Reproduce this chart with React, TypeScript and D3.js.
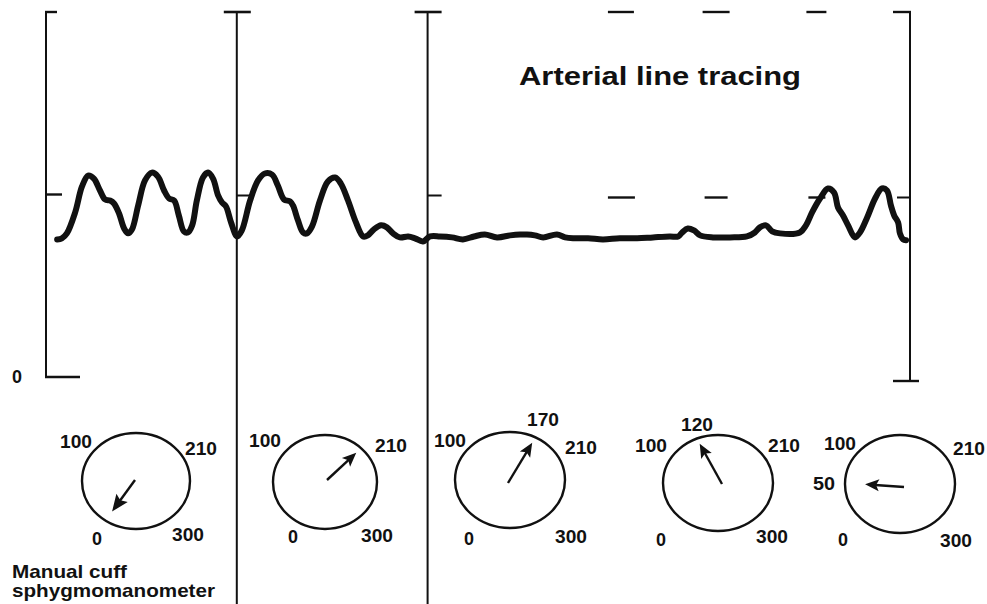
import React from 'react';
import * as d3 from 'd3';

const W = 987;
const H = 604;

// Arterial line tracing: time (s) and pressure (mmHg)
const waveTime = [0.31,0.44,0.58,0.81,1.00,1.17,1.33,1.50,1.64,1.78,1.89,2.03,2.17,2.28,2.39,2.56,2.75,2.94,3.11,3.28,3.42,3.56,3.69,3.83,3.94,4.06,4.19,4.36,4.50,4.64,4.78,4.89,5.00,5.14,5.31,5.44,5.67,5.89,6.08,6.28,6.44,6.61,6.78,6.86,7.00,7.14,7.25,7.39,7.61,7.83,8.03,8.19,8.39,8.61,8.81,8.94,9.11,9.31,9.47,9.64,9.83,10.06,10.25,10.47,10.67,10.94,11.28,11.58,11.89,12.19,12.53,12.89,13.17,13.36,13.58,13.81,14.19,14.42,14.64,15.06,15.47,15.94,16.42,16.86,17.33,17.56,17.67,17.83,18.00,18.17,18.53,19.00,19.47,19.69,19.83,20.00,20.17,20.39,20.94,21.11,21.28,21.50,21.72,21.89,22.00,22.14,22.28,22.47,22.61,22.81,23.03,23.22,23.36,23.47,23.56,23.67,23.72,23.81,23.89];
const wavePressure = [75.4,76.0,78.7,90.2,104.4,110.4,108.7,102.2,97.3,96.7,95.1,89.6,81.4,78.7,80.9,94.0,107.7,112.0,109.8,102.2,97.8,96.7,88.5,79.8,79.2,83.1,96.7,109.3,112.0,108.7,99.5,95.6,93.4,84.7,77.0,80.3,96.7,107.7,111.5,110.9,104.9,97.3,96.2,94.0,85.8,79.2,78.7,82.5,96.7,107.1,109.3,106.0,96.7,84.7,77.0,77.6,80.9,83.1,82.0,78.7,76.5,77.0,76.0,74.3,77.0,77.0,76.5,75.4,77.0,78.1,76.5,77.6,78.1,78.1,77.6,76.5,78.1,76.5,76.0,76.0,75.4,76.0,76.0,76.5,77.0,77.0,79.2,81.4,80.3,77.6,76.5,76.5,77.0,79.2,82.0,83.1,79.8,78.7,79.2,83.1,90.2,97.8,103.3,101.1,92.9,88.5,83.1,76.5,79.2,87.4,97.8,103.3,102.2,94.0,88.5,84.7,78.7,75.4,74.9];

const pressureTicks = [0, 100, 200];
const cuffMarkerTimes = [5.3, 10.6];
const dashTimes = [15.97, 18.6, 21.4];

// Manual cuff dials
const dialScaleLabels = ['100', '210', '0', '300'];
const dialReadings = [0, 210, 170, 120, 50];
const dialExtraLabels = ['', '', '170', '120', '50'];
const needleAngles = [-144, 47, 31, -29, -86];

// layout only
const dialLayout = [
  { cx: 136, cy: 481, rx: 54, ry: 48, len: 39, sx: -1, sy: -1, lab: [[-60, -33], [65, -26], [-39, 64], [52, 60]], ex: null },
  { cx: 325, cy: 482, rx: 52, ry: 47, len: 40, sx: 2, sy: -2, lab: [[-60, -35], [66, -30], [-32, 61], [52, 60]], ex: null },
  { cx: 510, cy: 480, rx: 55, ry: 48, len: 47, sx: -2, sy: 3, lab: [[-60, -33], [71, -26], [-41, 65], [61, 63]], ex: [33, -54] },
  { cx: 718, cy: 483, rx: 55, ry: 48, len: 46, sx: 4, sy: 1, lab: [[-67, -31], [66, -31], [-57, 63], [54, 60]], ex: [-21, -52] },
  { cx: 900, cy: 484, rx: 55, ry: 49, len: 39, sx: 4, sy: 3, lab: [[-60, -34], [69, -29], [-57, 62], [56, 63]], ex: [-76, 6] },
];

const FONT = "'Liberation Sans', Arial, Helvetica, sans-serif";

function Needle({ x0, y0, angle, len, big }: { x0: number; y0: number; angle: number; len: number; big: boolean }) {
  const a = (angle * Math.PI) / 180;
  const dx = Math.sin(a);
  const dy = -Math.cos(a);
  const tx = x0 + dx * len;
  const ty = y0 + dy * len;
  const hl = big ? 17 : 14;
  const hw = big ? 7 : 6;
  const bx = tx - dx * hl;
  const by = ty - dy * hl;
  const px = -dy;
  const py = dx;
  const pts = [
    [tx, ty],
    [bx + px * hw, by + py * hw],
    [bx + dx * 3, by + dy * 3],
    [bx - px * hw, by - py * hw],
  ];
  return (
    <g>
      <line x1={x0} y1={y0} x2={bx + dx * 4} y2={by + dy * 4} stroke="#111" strokeWidth={2.4} />
      <polygon points={pts.map((p) => p.join(',')).join(' ')} fill="#111" />
    </g>
  );
}

export default function App() {
  const x = d3.scaleLinear().domain([0, 24]).range([46, 910]);
  const y = d3.scaleLinear().domain([0, 200]).range([377, 12]);

  const pts: [number, number][] = waveTime.map((t, i) => [t, wavePressure[i]]);
  const line = d3
    .line<[number, number]>()
    .x((d) => x(d[0]))
    .y((d) => y(d[1]))
    .curve(d3.curveCatmullRom.alpha(0.5));

  const ink = '#111';
  const digitLen = (s: string) => (s.length === 1 ? 10 : s.length === 2 ? 22 : 32);

  return (
    <svg
      width={W}
      height={H}
      viewBox={`0 0 ${W} ${H}`}
      style={{ position: 'absolute', left: 0, top: 0, background: '#fff' }}
      fontFamily={FONT}
    >
      <rect x={0} y={0} width={W} height={H} fill="#fff" />

      {/* Left pressure axis */}
      <line x1={x(0)} y1={y(200) - 1} x2={x(0)} y2={y(0) + 1} stroke={ink} strokeWidth={2} />
      {pressureTicks.map((p) => (
        <line
          key={p}
          x1={x(0) - 1}
          y1={y(p)}
          x2={x(0) + (p === 0 ? 34 : p === 100 ? 16 : 11)}
          y2={y(p)}
          stroke={ink}
          strokeWidth={2.4}
        />
      ))}
      <text x={17} y={383} fontSize={18} fontWeight="bold" textAnchor="middle" fill={ink} textLength={10} lengthAdjust="spacingAndGlyphs">
        0
      </text>

      {/* Cuff event markers */}
      {cuffMarkerTimes.map((t) => (
        <g key={t}>
          <line x1={x(t)} y1={y(200)} x2={x(t)} y2={H} stroke={ink} strokeWidth={2} />
          <line x1={x(t) - 13} y1={y(200)} x2={x(t) + 14} y2={y(200)} stroke={ink} strokeWidth={2.6} />
          <line x1={x(t)} y1={y(100) + 1} x2={x(t) + 14} y2={y(100) + 1} stroke={ink} strokeWidth={2} />
        </g>
      ))}

      {/* dashed reference levels */}
      {dashTimes.map((t, i) => (
        <g key={t}>
          <line x1={x(t) - [13, 13, 10][i]} y1={y(200)} x2={x(t) + [13, 14, 10][i]} y2={y(200)} stroke={ink} strokeWidth={2.4} />
          <line x1={x(t) - [13, 11, 8][i]} y1={y(100) + 3} x2={x(t) + [14, 12, 9][i]} y2={y(100) + 3} stroke={ink} strokeWidth={2.4} />
        </g>
      ))}

      {/* Right bracket */}
      <line x1={x(24)} y1={y(200)} x2={x(24)} y2={y(0) + 4} stroke={ink} strokeWidth={2} />
      <line x1={x(24) - 17} y1={y(200)} x2={x(24) + 1} y2={y(200)} stroke={ink} strokeWidth={2.4} />
      <line x1={x(24) - 13} y1={y(100) + 3} x2={x(24)} y2={y(100) + 3} stroke={ink} strokeWidth={2} />
      <line x1={x(24) - 17} y1={y(0) + 4} x2={x(24) + 9} y2={y(0) + 4} stroke={ink} strokeWidth={2.4} />

      {/* Arterial trace */}
      <path d={line(pts) || ''} fill="none" stroke={ink} strokeWidth={6} strokeLinejoin="round" strokeLinecap="round" />

      <text x={519} y={85} fontSize={26.5} fontWeight="bold" fill={ink} textLength={282} lengthAdjust="spacingAndGlyphs">
        Arterial line tracing
      </text>

      {/* Dials */}
      {dialLayout.map((d, i) => (
        <g key={i} data-reading={dialReadings[i]}>
          <ellipse cx={d.cx} cy={d.cy} rx={d.rx} ry={d.ry} fill="none" stroke={ink} strokeWidth={2.4} />
          {dialScaleLabels.map((s, j) => (
            <text
              key={s}
              x={d.cx + d.lab[j][0]}
              y={d.cy + d.lab[j][1]}
              fontSize={18}
              fontWeight="bold"
              textAnchor="middle"
              fill={ink}
              textLength={digitLen(s)}
              lengthAdjust="spacingAndGlyphs"
            >
              {s}
            </text>
          ))}
          {d.ex && dialExtraLabels[i] && (
            <text
              x={d.cx + d.ex[0]}
              y={d.cy + d.ex[1]}
              fontSize={18}
              fontWeight="bold"
              textAnchor="middle"
              fill={ink}
              textLength={digitLen(dialExtraLabels[i])}
              lengthAdjust="spacingAndGlyphs"
            >
              {dialExtraLabels[i]}
            </text>
          )}
          <Needle x0={d.cx + d.sx} y0={d.cy + d.sy} angle={needleAngles[i]} len={d.len} big={i === 0} />
        </g>
      ))}

      <text x={12} y={578} fontSize={18.5} fontWeight="bold" fill={ink} textLength={115} lengthAdjust="spacingAndGlyphs">
        Manual cuff
      </text>
      <text x={12} y={597} fontSize={18.5} fontWeight="bold" fill={ink} textLength={203} lengthAdjust="spacingAndGlyphs">
        sphygmomanometer
      </text>
    </svg>
  );
}
